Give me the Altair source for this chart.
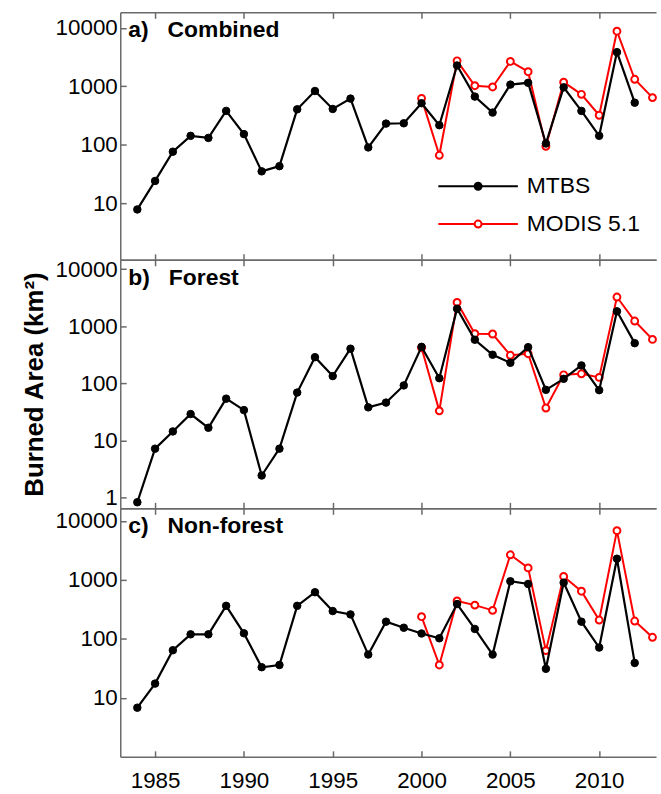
import altair as alt
import pandas as pd

# ---- data -----------------------------------------------------------------
years_mtbs = list(range(1984, 2013))
years_modis = list(range(2000, 2014))

combined_mtbs = [7.8, 24, 76, 142, 131, 380, 152, 35, 43, 404, 832, 410, 617, 90,
                 230, 233, 514, 216, 2275, 667, 355, 1070, 1150, 105, 960, 380,
                 142, 3850, 525]
combined_modis = [623, 66, 2735, 1025, 975, 2670, 1780, 94, 1180, 730, 320, 8800,
                  1320, 641]

forest_mtbs = [0.83, 7.2, 14.4, 29, 16.7, 54, 34, 2.44, 7.2, 69, 287, 134, 404, 38,
               46, 92, 435, 123, 2020, 580, 317, 229, 430, 77, 120, 206, 76, 1820,
               505]
forest_modis = [420, 33, 2610, 740, 730, 310, 330, 37, 141, 147, 127, 3240, 1230,
                587]

nonforest_mtbs = [6.8, 17.4, 64, 119, 119, 362, 124, 33, 36, 362, 615, 295, 259, 54,
                  195, 154, 123, 102, 388, 147, 54, 944, 850, 31, 895, 195, 71, 2275,
                  39]
nonforest_modis = [237, 36, 437, 372, 303, 2650, 1590, 63, 1140, 640, 208, 6800, 200,
                   106]

series_names = ["MTBS", "MODIS 5.1"]
panel_titles = ["a)\u00a0\u00a0\u00a0Combined", "b)\u00a0\u00a0\u00a0Forest",
                "c)\u00a0\u00a0\u00a0Non-forest"]
x_ticks = [1985, 1990, 1995, 2000, 2005, 2010]
y_ticks = [[10, 100, 1000, 10000], [1, 10, 100, 1000, 10000], [10, 100, 1000, 10000]]
y_domains = [[1.07, 18500], [0.65, 14500], [1.0, 16250]]
panel_heights = [249, 250, 250]

panel_data = [(combined_mtbs, combined_modis), (forest_mtbs, forest_modis),
              (nonforest_mtbs, nonforest_modis)]

FONT = "Liberation Sans"
FRAME = "#6a6a6a"

# legend key: a line with a circle in the middle
r = 0.35
KEY_PATH = (f"M-4,0H-{r}M{r},0H4M{r},0A{r},{r},0,1,1,-{r},0"
            f"A{r},{r},0,1,1,{r},0Z")


def make_frame(mtbs, modis):
    rows = [{"year": y, "value": v, "series": "MTBS"} for y, v in zip(years_mtbs, mtbs)]
    rows += [{"year": y, "value": v, "series": "MODIS 5.1"}
             for y, v in zip(years_modis, modis)]
    return pd.DataFrame(rows)


def panel(i):
    df = make_frame(*panel_data[i])
    last = i == 2
    xs = alt.Scale(domain=[1983.04, 2013.2], nice=False, zero=False)
    ys = alt.Scale(type="log", domain=y_domains[i], nice=False)

    # frame lines (domains) and inward-pointing ticks are separate axes
    ax_bottom = alt.Axis(orient="bottom", values=x_ticks, format="d", domain=True,
                         ticks=False, labels=last, grid=False, title=None,
                         labelPadding=13, labelFlush=False)
    ax_top = alt.Axis(orient="top", values=x_ticks, domain=True, ticks=False,
                      labels=False, grid=False, title=None)
    ax_bottom_ticks = alt.Axis(orient="bottom", values=x_ticks, domain=False,
                               ticks=True, tickSize=6, offset=-6, labels=False,
                               grid=False, title=None)
    ax_top_ticks = alt.Axis(orient="top", values=x_ticks, domain=False, ticks=True,
                            tickSize=6, offset=-6, labels=False, grid=False,
                            title=None)
    if i == 1:
        ay_left = alt.Axis(orient="left", values=y_ticks[i], format="d", domain=True,
                           ticks=False, labels=True, labelPadding=3, grid=False,
                           title="Burned Area (km\u00b2)", titleFontSize=26,
                           titleFontWeight="bold", titleFont=FONT,
                           titleColor="black", titlePadding=7.5)
    else:
        ay_left = alt.Axis(orient="left", values=y_ticks[i], format="d", domain=True,
                           ticks=False, labels=True, labelPadding=3, grid=False,
                           title=None)
    ay_left_ticks = alt.Axis(orient="left", values=y_ticks[i], domain=False,
                             ticks=True, tickSize=6, offset=-6, labels=False,
                             grid=False, title=None)

    if i == 0:
        legend = alt.Legend(orient="none", legendX=348.5, legendY=163.5, title=None,
                            direction="vertical", symbolType=KEY_PATH,
                            symbolSize=400, symbolStrokeWidth=2, symbolOpacity=1,
                            labelFontSize=23, labelFont=FONT, labelColor="black",
                            labelOffset=37.5, rowPadding=14, padding=0)
    else:
        legend = None

    fill_scale = alt.Scale(domain=series_names, range=["black", "white"])
    stroke_scale = alt.Scale(domain=series_names, range=["black", "red"])

    def enc_extra():
        if legend is None:
            return dict(fill=alt.Fill("series:N", scale=fill_scale, legend=None),
                        stroke=alt.Stroke("series:N", scale=stroke_scale, legend=None))
        return dict(fill=alt.Fill("series:N", scale=fill_scale, legend=legend),
                    stroke=alt.Stroke("series:N", scale=stroke_scale, legend=legend))

    base = alt.Chart(df)
    modis = base.transform_filter(alt.datum.series == "MODIS 5.1")
    mtbs = base.transform_filter(alt.datum.series == "MTBS")

    modis_line = modis.mark_line(color="red", strokeWidth=2).encode(
        x=alt.X("year:Q", scale=xs, axis=ax_bottom),
        y=alt.Y("value:Q", scale=ys, axis=ay_left),
    )
    modis_pts = modis.mark_point(size=48, strokeWidth=2, opacity=1).encode(
        x=alt.X("year:Q", scale=xs, axis=ax_top),
        y=alt.Y("value:Q", scale=ys, axis=ay_left_ticks),
        **enc_extra(),
    )
    mtbs_line = mtbs.mark_line(color="black", strokeWidth=2.2).encode(
        x=alt.X("year:Q", scale=xs, axis=ax_bottom_ticks),
        y=alt.Y("value:Q", scale=ys, axis=None),
    )
    mtbs_pts = mtbs.mark_point(size=57, strokeWidth=1, opacity=1).encode(
        x=alt.X("year:Q", scale=xs, axis=ax_top_ticks),
        y=alt.Y("value:Q", scale=ys, axis=None),
        **enc_extra(),
    )
    label = alt.Chart(pd.DataFrame({"t": [panel_titles[i]]})).mark_text(
        align="left", baseline="alphabetic", fontSize=23, fontWeight="bold",
        font=FONT, color="black",
    ).encode(text="t:N", x=alt.value(8), y=alt.value(25))

    return alt.layer(modis_line, modis_pts, mtbs_line, mtbs_pts, label).resolve_axis(
        x="independent", y="independent"
    ).properties(width=539, height=panel_heights[i])


chart = alt.vconcat(panel(0), panel(1), panel(2), spacing=0, bounds="flush").resolve_scale(
    fill="independent", stroke="independent"
).resolve_legend(
    fill="independent", stroke="independent"
).properties(
    padding={"left": 21, "top": 8, "right": 0, "bottom": 0}, background="white"
).configure_axis(
    labelFont=FONT, labelFontSize=22.5, labelColor="black",
    domainColor=FRAME, domainWidth=1.5, tickColor=FRAME, tickWidth=1.5,
).configure_view(stroke="transparent")

chart.save("out.html", embed_options={"renderer": "svg", "actions": False})
